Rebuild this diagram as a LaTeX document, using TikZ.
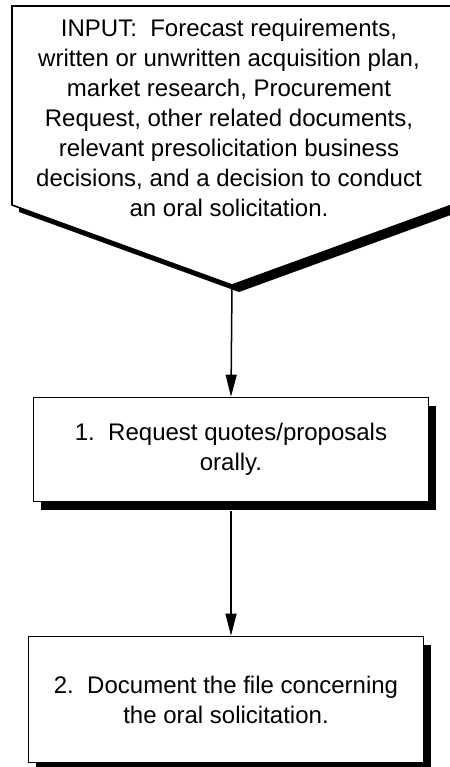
\documentclass[tikz,border=0pt]{standalone}
\usepackage{fontspec}
\setmainfont{Liberation Sans}
\usetikzlibrary{arrows.meta,shadows}
\begin{document}
\begin{tikzpicture}[x=1pt,y=-1pt]
	\tikzstyle{txt} = [align=center,font=\fontsize{24}{30}\selectfont]
	\tikzstyle{stepbox} = [txt,draw=black,line width=1.6pt,fill=white,minimum width=395pt,drop shadow={shadow xshift=7pt,shadow yshift=-8pt,fill=black,opacity=1}]
	\tikzstyle{flow} = [-{Triangle[length=22pt,width=11pt]},line width=1.5pt]
	\useasboundingbox (0,0) rectangle (449,767);
	% input
	\fill[black,shift={(7,7)}] (12,6) -- (452,6) -- (452,205) -- (232,285) -- (12,205) -- cycle;
	\draw[line width=1.6pt,fill=white] (12,6) -- (452,6) -- (452,205) -- (232,285) -- (12,205) -- cycle;
	\coordinate (tip) at (232,285);
	\node[txt] (input) at (229,118) {INPUT:~~Forecast requirements,\\written or unwritten acquisition plan,\\market research, Procurement\\Request, other related documents,\\relevant presolicitation business\\decisions, and a decision to conduct\\an oral solicitation.};
	% steps
	\node[stepbox,minimum height=104pt] (step1) at (231,449.5) {1.~~Request quotes/proposals\\orally.};
	\node[stepbox,minimum height=126pt] (step2) at (226,699.5) {2.~~Document the file concerning\\the oral solicitation.};
	% connections
	\draw[flow] (tip) -- (step1.north);
	\draw[flow,shorten <=9pt] (step1.south) -- (step1.south |- step2.north);
\end{tikzpicture}
\end{document}
